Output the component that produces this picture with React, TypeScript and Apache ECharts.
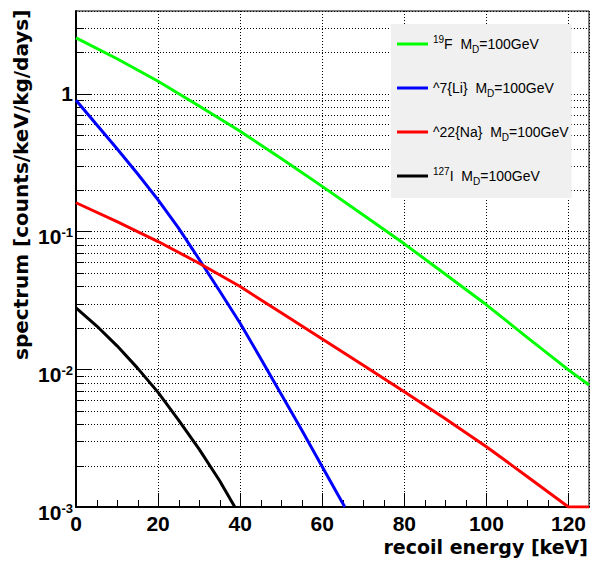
import React, { useEffect, useRef } from "react";
import * as echarts from "echarts";

// ---- data ----
const fEnergy = [0, 10, 20, 30, 40, 50, 60, 70, 80, 90, 100, 110, 120, 125];
const fSpectrum = [2.55, 1.8, 1.235, 0.817, 0.535, 0.34, 0.213, 0.132, 0.0815, 0.049, 0.0294, 0.017, 0.0099, 0.0077];

const liEnergy = [0, 5, 10, 15, 20, 25, 30, 35, 40, 45, 50, 55, 60, 65.5];
const liSpectrum = [0.9, 0.6, 0.4, 0.263, 0.17, 0.106, 0.063, 0.037, 0.0216, 0.012, 0.0066, 0.00363, 0.00196, 0.001];

const naEnergy = [0, 10, 20, 30, 40, 50, 60, 70, 80, 90, 100, 110, 120, 125];
const naSpectrum = [0.162, 0.118, 0.0847, 0.0589, 0.0399, 0.0257, 0.0166, 0.0107, 0.00687, 0.00437, 0.00274, 0.00166, 0.001, 0.001];

const iEnergy = [0, 5, 10, 15, 20, 25, 30, 35, 38.7];
const iSpectrum = [0.0279, 0.0207, 0.0148, 0.0102, 0.0068, 0.00428, 0.00263, 0.00155, 0.001];

const seriesNames = ["19F", "7Li", "22Na", "127I"];
const seriesColors = ["#00ff00", "#0000ff", "#ff0000", "#000000"];
const legendLabels = [
  "{sup|19}F  M{sub|D}=100GeV",
  "^7{Li}  M{sub|D}=100GeV",
  "^22{Na}  M{sub|D}=100GeV",
  "{sup|127}I  M{sub|D}=100GeV",
];

const xMin = 0;
const xMax = 125;
const xInterval = 20;
const yMin = 0.001;
const yMax = 4;
const xMinorTicks = [5, 10, 15, 25, 30, 35, 45, 50, 55, 65, 70, 75, 85, 90, 95, 105, 110, 115];
const yMinorTicks = [
  0.002, 0.003, 0.004, 0.005, 0.006, 0.007, 0.008, 0.009,
  0.02, 0.03, 0.04, 0.05, 0.06, 0.07, 0.08, 0.09,
  0.2, 0.3, 0.4, 0.5, 0.6, 0.7, 0.8, 0.9,
  2, 3,
];

const xTitle = "recoil energy [keV]";
const yTitle = "spectrum [counts/keV/kg/days]";

const LABEL_FONT = "Liberation Sans";
const TITLE_FONT = "DejaVu Sans";

function pairs(xs: number[], ys: number[]) {
  return xs.map((x, i) => [x, ys[i]]);
}

export default function App() {
  const ref = useRef<HTMLDivElement>(null);

  useEffect(() => {
    if (!ref.current) return;
    const chart = echarts.init(ref.current, undefined, { renderer: "svg" });

    const curveData = [
      pairs(fEnergy, fSpectrum),
      pairs(liEnergy, liSpectrum),
      pairs(naEnergy, naSpectrum),
      pairs(iEnergy, iSpectrum),
    ];

    const dotted = { color: "#000", width: 1, type: [1, 2] as any };

    const option: any = {
      animation: false,
      backgroundColor: "#fff",
      grid: {
        left: 76,
        top: 11,
        right: 2,
        bottom: 54,
        containLabel: false,
        show: true,
        borderColor: "#000",
        borderWidth: 1,
        backgroundColor: "transparent",
      },
      xAxis: {
        type: "value",
        min: xMin,
        max: xMax,
        interval: xInterval,
        axisLine: { show: true, lineStyle: { color: "#000", width: 2 } },
        axisTick: { show: true, inside: true, length: 14, lineStyle: { color: "#000", width: 1 } },
        axisLabel: {
          show: true,
          margin: 6,
          color: "#000",
          fontFamily: LABEL_FONT,
          fontWeight: "bold",
          fontSize: 21,
          showMaxLabel: false,
        },
        splitLine: { show: true, lineStyle: dotted },
      },
      yAxis: {
        type: "log",
        logBase: 10,
        min: yMin,
        max: yMax,
        axisLine: { show: true, lineStyle: { color: "#000", width: 2 } },
        axisTick: { show: true, inside: true, length: 15, lineStyle: { color: "#000", width: 1 } },
        axisLabel: {
          show: true,
          margin: 3,
          color: "#000",
          fontFamily: LABEL_FONT,
          fontWeight: "bold",
          fontSize: 21,
          showMaxLabel: false,
          formatter: (v: number) => {
            const lg = Math.log10(v);
            const e = Math.round(lg);
            if (Math.abs(lg - e) > 1e-6) return "";
            if (e === 0) return "1";
            return `{b|10}{s|${e}}`;
          },
          rich: {
            b: {
              fontFamily: LABEL_FONT,
              fontWeight: "bold",
              fontSize: 21,
              color: "#000",
              padding: [10, 0, 0, 0],
            },
            s: {
              fontFamily: LABEL_FONT,
              fontWeight: "bold",
              fontSize: 13,
              color: "#000",
              verticalAlign: "top",
              padding: [10, 0, 0, 0],
            },
          },
        },
        splitLine: { show: true, lineStyle: dotted },
      },
      legend: {
        show: true,
        data: seriesNames,
        orient: "vertical",
        left: 391,
        top: 24,
        padding: [10, 3, 12, 6],
        backgroundColor: "#f0f0f0",
        borderWidth: 0,
        itemGap: 24,
        itemWidth: 31,
        itemHeight: 3,
        icon: "rect",
        selectedMode: false,
        formatter: (name: string) => legendLabels[seriesNames.indexOf(name)],
        textStyle: {
          fontFamily: LABEL_FONT,
          fontSize: 14,
          color: "#000",
          lineHeight: 20,
          rich: {
            sup: { fontFamily: LABEL_FONT, fontSize: 10, color: "#000", verticalAlign: "top" },
            sub: { fontFamily: LABEL_FONT, fontSize: 10, color: "#000", verticalAlign: "bottom" },
          },
        },
      },
      graphic: [
        {
          type: "text",
          right: 3,
          top: 537,
          style: {
            text: xTitle,
            fontFamily: TITLE_FONT,
            fontWeight: "bold",
            fontSize: 19,
            fill: "#000",
          },
        },
        {
          type: "text",
          x: 11,
          y: 360,
          rotation: Math.PI / 2,
          style: {
            text: yTitle,
            fontFamily: TITLE_FONT,
            fontWeight: "bold",
            fontSize: 20,
            fill: "#000",
            textAlign: "left",
            textVerticalAlign: "top",
          },
        },
      ],
      series: [
        {
          type: "custom",
          name: "yMinor",
          coordinateSystem: "cartesian2d",
          silent: true,
          z: 1,
          data: yMinorTicks.map((v) => [xMin, v]),
          renderItem: (params: any, api: any) => {
            const p = api.coord([xMin, api.value(1)]);
            const cs = params.coordSys;
            const y = Math.round(p[1]) + 0.5;
            return {
              type: "group",
              children: [
                {
                  type: "line",
                  shape: { x1: cs.x, y1: y, x2: cs.x + cs.width, y2: y },
                  style: { stroke: "#000", lineWidth: 1, lineDash: [1, 2] },
                },
                {
                  type: "line",
                  shape: { x1: cs.x, y1: y, x2: cs.x + 8, y2: y },
                  style: { stroke: "#000", lineWidth: 1 },
                },
              ],
            };
          },
        },
        {
          type: "custom",
          name: "xMinor",
          coordinateSystem: "cartesian2d",
          silent: true,
          z: 1,
          data: xMinorTicks.map((v) => [v, yMin]),
          renderItem: (params: any, api: any) => {
            const p = api.coord([api.value(0), yMin]);
            const x = Math.round(p[0]) + 0.5;
            return {
              type: "line",
              shape: { x1: x, y1: p[1], x2: x, y2: p[1] - 7 },
              style: { stroke: "#000", lineWidth: 1 },
            };
          },
        },
        ...seriesNames.map((name, i) => ({
          type: "line",
          name,
          data: curveData[i],
          showSymbol: false,
          symbol: "none",
          smooth: false,
          clip: true,
          z: 3,
          color: seriesColors[i],
          lineStyle: { color: seriesColors[i], width: 3, join: "round" },
        })),
      ],
    };

    chart.setOption(option);
    return () => chart.dispose();
  }, []);

  return (
    <div
      ref={ref}
      style={{ position: "fixed", left: 0, top: 0, width: 591, height: 561, background: "#fff" }}
    />
  );
}
